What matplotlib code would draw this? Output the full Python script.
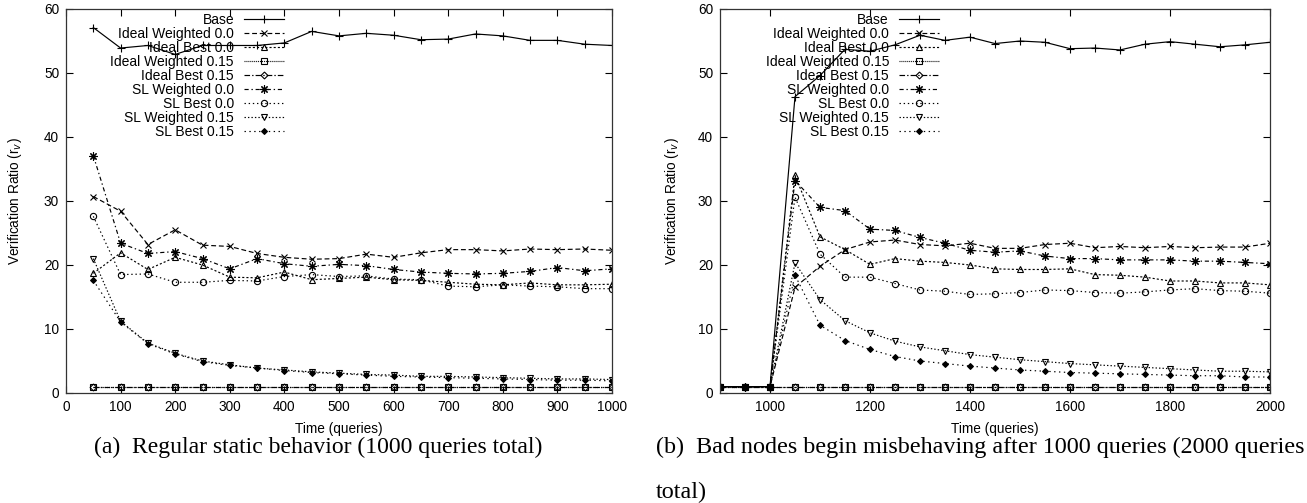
import matplotlib
matplotlib.use("Agg")
import matplotlib.pyplot as plt

plt.rcParams['font.family'] = ['Liberation Sans', 'DejaVu Sans']
plt.rcParams['lines.scale_dashes'] = False

# ---------------- data ----------------
labels = ["Base", "Ideal Weighted 0.0", "Ideal Best 0.0", "Ideal Weighted 0.15",
          "Ideal Best 0.15", "SL Weighted 0.0", "SL Best 0.0", "SL Weighted 0.15",
          "SL Best 0.15"]

x_a = [50, 100, 150, 200, 250, 300, 350, 400, 450, 500,
       550, 600, 650, 700, 750, 800, 850, 900, 950, 1000]

a_base = [57.1, 53.9, 54.3, 52.9, 54.3, 54.3, 54.3, 54.7, 56.5, 55.8,
          56.2, 55.9, 55.2, 55.3, 56.1, 55.8, 55.1, 55.1, 54.5, 54.3]
a_iw00 = [30.7, 28.4, 23.2, 25.5, 23.1, 22.9, 21.8, 21.2, 20.9, 21.0,
          21.7, 21.2, 21.9, 22.4, 22.4, 22.2, 22.5, 22.4, 22.5, 22.3]
a_ib00 = [18.7, 21.9, 19.3, 21.2, 20.0, 18.1, 18.0, 18.9, 17.7, 17.9,
          18.1, 17.7, 17.6, 17.3, 17.0, 16.9, 17.2, 16.9, 16.9, 17.0]
a_iw15 = [1.0] * 20
a_ib15 = [1.0] * 20
a_sw00 = [37.1, 23.4, 21.8, 22.1, 21.0, 19.4, 21.0, 20.2, 19.8, 20.1,
          19.9, 19.3, 18.9, 18.7, 18.6, 18.7, 19.0, 19.6, 19.1, 19.4]
a_sb00 = [27.6, 18.5, 18.6, 17.3, 17.3, 17.6, 17.5, 18.2, 18.5, 18.2,
          18.3, 17.8, 17.7, 16.7, 16.6, 16.9, 16.7, 16.6, 16.3, 16.3]
a_sw15 = [21.0, 11.2, 7.8, 6.2, 5.0, 4.4, 3.9, 3.6, 3.3, 3.1,
          2.9, 2.8, 2.6, 2.6, 2.5, 2.4, 2.3, 2.2, 2.2, 2.1]
a_sb15 = [17.6, 11.1, 7.7, 6.1, 4.9, 4.3, 3.9, 3.5, 3.2, 3.0,
          2.8, 2.6, 2.5, 2.4, 2.3, 2.2, 2.1, 2.0, 2.0, 1.9]

x_b = [900, 950, 1000, 1050, 1100, 1150, 1200, 1250, 1300, 1350, 1400, 1450,
       1500, 1550, 1600, 1650, 1700, 1750, 1800, 1850, 1900, 1950, 2000]

b_base = [1.0, 1.0, 1.0, 46.3, 49.6, 53.7, 53.4, 54.4, 55.9, 55.1, 55.6, 54.6,
          55.0, 54.8, 53.8, 53.9, 53.6, 54.5, 54.9, 54.5, 54.1, 54.4, 54.8]
b_iw00 = [1.0, 1.0, 1.0, 16.5, 19.8, 22.4, 23.6, 23.9, 23.2, 23.0, 23.4, 22.6,
          22.6, 23.2, 23.4, 22.7, 22.9, 22.7, 22.9, 22.7, 22.8, 22.8, 23.4]
b_ib00 = [1.0, 1.0, 1.0, 34.0, 24.4, 22.4, 20.1, 21.0, 20.6, 20.4, 20.0, 19.4,
          19.3, 19.3, 19.4, 18.5, 18.4, 18.1, 17.5, 17.5, 17.2, 17.2, 16.9]
b_iw15 = [1.0] * 23
b_ib15 = [1.0] * 23
b_sw00 = [1.0, 1.0, 1.0, 33.2, 29.0, 28.5, 25.6, 25.4, 24.3, 23.4, 22.3, 22.0,
          22.2, 21.4, 21.0, 21.0, 20.8, 20.8, 20.8, 20.6, 20.6, 20.4, 20.2]
b_sb00 = [1.0, 1.0, 1.0, 30.6, 21.7, 18.1, 18.1, 17.1, 16.1, 15.9, 15.4, 15.5,
          15.7, 16.1, 16.0, 15.7, 15.6, 15.8, 16.1, 16.3, 16.0, 15.9, 15.6]
b_sw15 = [1.0, 1.0, 1.0, 20.3, 14.6, 11.3, 9.4, 8.1, 7.2, 6.6, 6.0, 5.6,
          5.2, 4.9, 4.6, 4.4, 4.2, 4.0, 3.8, 3.6, 3.4, 3.4, 3.3]
b_sb15 = [1.0, 1.0, 1.0, 18.4, 10.6, 8.2, 6.8, 5.7, 5.0, 4.6, 4.2, 3.9,
          3.6, 3.4, 3.2, 3.1, 3.0, 2.9, 2.8, 2.7, 2.7, 2.5, 2.5]

yticks = [0, 10, 20, 30, 40, 50, 60]
xticks_a = [0, 100, 200, 300, 400, 500, 600, 700, 800, 900, 1000]
xticks_b = [1000, 1200, 1400, 1600, 1800, 2000]

# ---------------- styles ----------------
styles = [
    dict(ls='-', marker='+', ms=6, mfc='none'),
    dict(ls=(0, (3.5, 2.0)), marker='x', ms=4.5, mfc='none'),
    dict(ls=(0, (1.5, 1.5)), marker='^', ms=4.5, mfc='none'),
    dict(ls=(0, (0.7, 0.7)), marker='s', ms=4, mfc='none'),
    dict(ls=(0, (4.0, 1.5, 1.0, 1.5)), marker='D', ms=3.5, mfc='none'),
    dict(ls=(0, (3.0, 2.0, 1.0, 2.0)), marker=(8, 2, 0), ms=6, mfc='none'),
    dict(ls=(0, (1.0, 2.0)), marker='o', ms=4.5, mfc='none'),
    dict(ls=(0, (1.0, 1.5)), marker='v', ms=4.5, mfc='none'),
    dict(ls=(0, (1.0, 2.5)), marker='D', ms=3.0, mfc='black'),
]

series_a = [a_base, a_iw00, a_ib00, a_iw15, a_ib15, a_sw00, a_sb00, a_sw15, a_sb15]
series_b = [b_base, b_iw00, b_ib00, b_iw15, b_ib15, b_sw00, b_sb00, b_sw15, b_sb15]

W, H = 1307, 503
fig = plt.figure(figsize=(W / 100, H / 100), dpi=100)

ax_a = fig.add_axes([66 / W, 1 - 393 / H, (612 - 66) / W, (393 - 9) / H])
ax_b = fig.add_axes([720 / W, 1 - 393 / H, (1270 - 720) / W, (393 - 9) / H])


def draw(ax, xs, series, xlim, xticks, leg_right_px):
    for ys, lab, st in zip(series, labels, styles):
        ax.plot(xs, ys, color='black', lw=0.85, mew=0.8, label=lab,
                linestyle=st['ls'], marker=st['marker'], ms=st['ms'],
                mfc=st['mfc'], mec='black')
    ax.set_xlim(*xlim)
    ax.set_ylim(0, 60)
    ax.set_xticks(xticks)
    ax.set_yticks(yticks)
    ax.tick_params(direction='in', top=True, right=True, length=5, width=0.8,
                   labelsize=9.8, pad=5)
    for s in ax.spines.values():
        s.set_linewidth(0.9)
        s.set_color('#333333')
    ax.set_xlabel('Time (queries)', fontsize=9.8, labelpad=6)
    leg = ax.legend(loc='upper right', bbox_to_anchor=(leg_right_px / W, 1 - 13 / H),
                    bbox_transform=fig.transFigure, frameon=False, markerfirst=False,
                    fontsize=10, labelspacing=0.0, handlelength=2.9,
                    handletextpad=0.7, borderpad=0, borderaxespad=0, numpoints=1)
    return leg


draw(ax_a, x_a, series_a, (0, 1000), xticks_a, 284)
draw(ax_b, x_b, series_b, (900, 2000), xticks_b, 939)

fig.text(15 / W, 1 - 201 / H, 'Verification Ratio (r$_v$)', rotation=90,
         ha='center', va='center', fontsize=9.8)
fig.text(672 / W, 1 - 201 / H, 'Verification Ratio (r$_v$)', rotation=90,
         ha='center', va='center', fontsize=9.8)

cap_font = ['Liberation Serif', 'DejaVu Serif']
fig.text(318.5 / W, 1 - 447 / H, '(a)  Regular static behavior (1000 queries total)',
         ha='center', va='center', fontsize=17, family=cap_font)
fig.text(656 / W, 1 - 447 / H,
         '(b)  Bad nodes begin misbehaving after 1000 queries (2000 queries',
         ha='left', va='center', fontsize=17.4, family=cap_font)
fig.text(656 / W, 1 - 492 / H, 'total)', ha='left', va='center', fontsize=17.4,
         family=cap_font)

fig.savefig('out.png', dpi=100)
